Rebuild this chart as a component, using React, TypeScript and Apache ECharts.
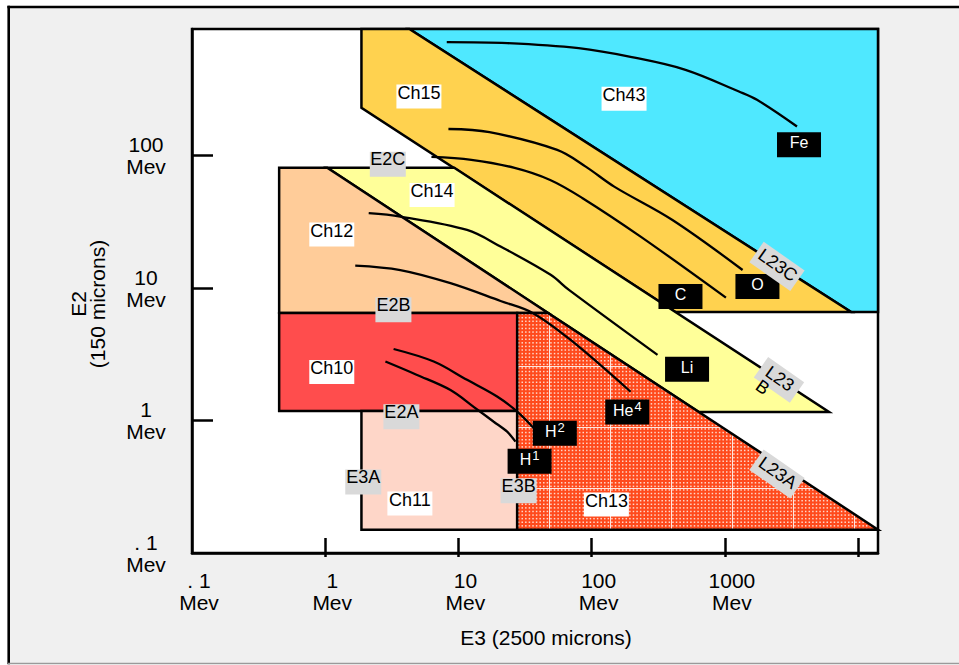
import React, { useEffect, useRef } from 'react';
import * as echarts from 'echarts';

// ---------- axes (MeV) ----------
const E3_RANGE = [0.1, 14100];
const E2_RANGE = [0.1, 905];
const xTickValues = [1, 10, 100, 1000, 10000];
const xLabelValues = [0.1, 1, 10, 100, 1000];
const xLabelTexts = ['. 1', '1', '10', '100', '1000'];
const yTickValues = [1, 10, 100];
const yLabelValues = [0.1, 1, 10, 100];
const yLabelTexts = ['. 1', '1', '10', '100'];
const unitText = 'Mev';
const xTitle = 'E3 (2500 microns)';
const yTitle = 'E2\n(150 microns)';

// ---------- channel regions: vertices [E3, E2] in MeV ----------
const regionNames = ['Ch43', 'Ch15', 'Ch14', 'Ch12', 'Ch10', 'Ch11', 'Ch13'];
const ch43Region = [[4.28, 905], [14100, 905], [14100, 6.6], [8860, 6.6]];
const ch15Region = [[1.87, 905], [4.28, 905], [8860, 6.6], [425, 6.6], [1.87, 230]];
const ch14Region = [[1.035, 81], [9.3, 81], [6050, 1.16], [637, 1.16]];
const ch12Region = [[0.451, 81], [1.035, 81], [47, 6.5], [0.451, 6.5]];
const ch10Region = [[0.451, 6.5], [27.6, 6.5], [27.6, 1.18], [0.451, 1.18]];
const ch11Region = [[1.87, 1.18], [27.6, 1.18], [27.6, 0.15], [1.87, 0.15]];
const ch13Region = [[27.6, 6.5], [47, 6.5], [14100, 0.15], [27.6, 0.15]];
const regionVertices = [ch43Region, ch15Region, ch14Region, ch12Region, ch10Region, ch11Region, ch13Region];

// ---------- particle tracks [E3, E2] in MeV ----------
const trackFe = [[8.17, 720], [23.3, 708], [79.8, 648], [200, 555], [506, 445], [1274, 305], [1741, 264], [3477, 166]];
const trackO = [[8.41, 159], [17.1, 150.5], [55.1, 110.6], [90.2, 82.7], [147.6, 58.4], [404, 32.7], [1358, 13.7]];
const trackC = [[6.27, 97.9], [12.5, 93], [26.4, 80.9], [48.8, 65.6], [84.9, 48], [233, 24.5], [1018, 8.48]];
const trackLi = [[2.12, 36.8], [3.66, 34.7], [11.6, 27.5], [20.7, 20.6], [49.2, 12.6], [67.5, 9.69], [312, 3.13]];
const trackHe4 = [[1.68, 14.8], [3.66, 13.7], [8.71, 10.9], [20.7, 8.0], [36, 6.5], [69.5, 4.06], [196, 1.65]];
const trackH2 = [[3.26, 3.47], [6.52, 2.79], [11.6, 2.03], [19.5, 1.52], [27.6, 1.17], [36.8, 0.875]];
const trackH1 = [[2.83, 2.79], [4.89, 2.21], [8.71, 1.70], [13, 1.27], [18.4, 0.98], [23.2, 0.824], [26.8, 0.693]];
const tracks = [trackFe, trackO, trackC, trackLi, trackHe4, trackH2, trackH1];

// ---------- annotations (anchor [E3, E2] in MeV) ----------
const channelLabelPos = [[175, 269], [5.05, 280], [6.34, 50.6], [1.12, 25.4], [1.12, 2.33], [4.32, 0.236], [129, 0.232]];
const edgeNames = ['E2C', 'E2B', 'E2A', 'E3A', 'E3B'];
const edgePos = [[2.95, 86], [3.25, 6.88], [3.73, 1.07], [1.93, 0.344], [28.3, 0.295]];
const particleNames = ['Fe', 'C', 'O', 'Li', 'He', 'H', 'H'];
const particleMass = ['', '', '', '', '4', '2', '1'];
const particlePos = [[3600, 121], [464, 8.65], [1755, 10.3], [520, 2.44], [185, 1.16], [52.9, 0.802], [34.2, 0.493]];
const boundaryNames = ['L23C', 'L23\nB', 'L23A'];
const boundaryPos = [[2460, 14.6], [2547, 2.03], [2460, 0.395]];

const FONT_FAMILY = '"Liberation Sans", Arial, Helvetica, sans-serif';
const regionFill: Record<string, string> = {
  Ch43: '#4fe8ff', Ch15: '#ffd24f', Ch14: '#ffff99', Ch12: '#ffcc99', Ch10: '#ff4d4d', Ch11: '#fed6c8',
};

function makeHatchTile(size: number): HTMLCanvasElement {
  const c = document.createElement('canvas');
  c.width = size; c.height = size;
  const g = c.getContext('2d')!;
  g.fillStyle = '#ff4a1c';
  g.fillRect(0, 0, size, size);
  const n = 17;
  const step = size / n;
  g.fillStyle = 'rgba(255,232,222,0.9)';
  for (let i = 0; i < n; i++) for (let j = 0; j < n; j++) g.fillRect(i * step + 1.2, j * step + 1.2, 1.5, 1.5);
  g.fillStyle = 'rgba(255,255,255,0.85)';
  g.fillRect(0, 0, size, 1);
  g.fillRect(0, 0, 1, size);
  return c;
}

function nearestLabel(v: number, values: number[], texts: string[]): string {
  let best = -1, bd = Infinity;
  values.forEach((t, i) => {
    const d = Math.abs(Math.log10(v) - Math.log10(t));
    if (d < bd) { bd = d; best = i; }
  });
  return bd < 0.01 ? texts[best] + '\n' + unitText : '';
}

export default function App() {
  const ref = useRef<HTMLDivElement>(null);
  useEffect(() => {
    const el = ref.current!;
    const chart = echarts.init(el, undefined, { renderer: 'svg', width: 959, height: 665 });
    const tileSize = 61;
    const hatch = {
      image: makeHatchTile(tileSize), repeat: 'repeat', imageWidth: tileSize, imageHeight: tileSize, x: 53.7, y: 25,
    };
    const measure = document.createElement('canvas').getContext('2d')!;
    const tw = (t: string, font: string) => { measure.font = font; return measure.measureText(t).width; };

    type Lbl = { kind: string; text: string; sup: string; pos: number[] };
    const labels: Lbl[] = [];
    regionNames.forEach((n, i) => labels.push({ kind: 'channel', text: n, sup: '', pos: channelLabelPos[i] }));
    edgeNames.forEach((n, i) => labels.push({ kind: 'edge', text: n, sup: '', pos: edgePos[i] }));
    particleNames.forEach((n, i) => labels.push({ kind: 'particle', text: n, sup: particleMass[i], pos: particlePos[i] }));
    boundaryNames.forEach((n, i) => labels.push({ kind: 'boundary', text: n, sup: '', pos: boundaryPos[i] }));

    const f18 = `18px ${FONT_FAMILY}`;
    const f16 = `16px ${FONT_FAMILY}`;
    const f13 = `13px ${FONT_FAMILY}`;

    const txt = (text: string, x: number, y: number, font: string, fill: string, align = 'center', va = 'middle', extra: any = {}) => ({
      type: 'text', x, y,
      style: { text, font, fill, align, verticalAlign: va, textAlign: align, textVerticalAlign: va, ...extra },
    });

    const renderLabel = (params: any, api: any) => {
      const l = labels[params.dataIndex];
      const p = api.coord([l.pos[0], l.pos[1]]);
      const children: any[] = [];
      let rotation = 0;
      if (l.kind === 'channel') {
        children.push({ type: 'rect', shape: { x: -22.5, y: -12, width: 45, height: 24 }, style: { fill: '#ffffff' } });
        children.push(txt(l.text, 0, -3.5, f18, '#000'));
      } else if (l.kind === 'edge') {
        children.push({ type: 'rect', shape: { x: -18, y: -12.5, width: 36, height: 25 }, style: { fill: '#d9d9d9' } });
        children.push(txt(l.text, 0, -5, f18, '#000'));
      } else if (l.kind === 'particle') {
        children.push({ type: 'rect', shape: { x: -22, y: -12.5, width: 44, height: 25 }, style: { fill: '#000' } });
        const wm = tw(l.text, f16);
        const ws = l.sup ? tw(l.sup, f13) + 1 : 0;
        const x0 = -(wm + ws) / 2;
        children.push(txt(l.text, x0, -2, f16, '#fff', 'left'));
        if (l.sup) children.push(txt(l.sup, x0 + wm + 1, -6, f13, '#fff', 'left'));
      } else {
        rotation = -35 * Math.PI / 180;
        const lines = l.text.split('\n');
        const w1 = tw(lines[0], f18);
        const bw = lines.length > 1 ? 44 : 50;
        children.push({ type: 'rect', shape: { x: -bw / 2, y: -12.5, width: bw, height: 25 }, style: { fill: '#d9d9d9' } });
        children.push(txt(l.text, -w1 / 2, -10, f18, '#000', 'left', 'top', { lineHeight: 17 }));
      }
      return { type: 'group', x: p[0], y: p[1], rotation, children };
    };

    const renderRegion = (params: any, api: any) => {
      const name = regionNames[params.dataIndex];
      const pts = regionVertices[params.dataIndex].map((v) => api.coord(v));
      return {
        type: 'polygon',
        shape: { points: pts },
        style: { fill: name === 'Ch13' ? hatch : regionFill[name], stroke: '#000', lineWidth: 2.5, lineJoin: 'miter' },
      };
    };

    const axisFont = { fontFamily: FONT_FAMILY, fontSize: 21, color: '#000' };

    const option: any = {
      animation: false,
      backgroundColor: '#ffffff',
      graphic: [
        { type: 'rect', z: -100, shape: { x: 8, y: 7, width: 951, height: 656.5 }, style: { fill: '#f0f0f0' } },
        { type: 'line', z: -99, shape: { x1: 8.7, y1: 5.8, x2: 8.7, y2: 664.3 }, style: { stroke: '#000', lineWidth: 2.6 } },
        { type: 'line', z: -99, shape: { x1: 7.4, y1: 7, x2: 959, y2: 7 }, style: { stroke: '#000', lineWidth: 2.6 } },
        { type: 'line', z: -99, shape: { x1: 8, y1: 663.6, x2: 959, y2: 663.6 }, style: { stroke: '#9a9a9a', lineWidth: 1.5 } },
        {
          type: 'text', x: 88, y: 304, rotation: Math.PI / 2, z: 10,
          style: {
            text: yTitle, font: `21px ${FONT_FAMILY}`, fill: '#000', lineHeight: 19,
            align: 'center', verticalAlign: 'middle', textAlign: 'center', textVerticalAlign: 'middle',
          },
        },
      ],
      grid: {
        left: 192, top: 29, width: 686, height: 524,
        show: true, backgroundColor: '#ffffff', borderColor: '#000', borderWidth: 2.5,
      },
      xAxis: [
        {
          type: 'log', logBase: 10, min: E3_RANGE[0], max: E3_RANGE[1],
          name: xTitle, nameLocation: 'middle', nameGap: 74,
          nameTextStyle: { ...axisFont, padding: [0, 0, 0, 22] },
          axisLine: { show: true, lineStyle: { color: '#000', width: 2.5 } },
          axisTick: { show: true, length: 4, customValues: xTickValues, lineStyle: { color: '#000', width: 2.5 } },
          axisLabel: {
            ...axisFont, lineHeight: 22, margin: 16, align: 'center', padding: [0, 0, 0, 14],
            customValues: xLabelValues,
            formatter: (v: number) => nearestLabel(v, xLabelValues, xLabelTexts),
          },
          splitLine: { show: false },
        },
        {
          type: 'log', logBase: 10, min: E3_RANGE[0], max: E3_RANGE[1], position: 'bottom',
          axisLine: { show: false },
          axisTick: { show: true, inside: true, length: 15, customValues: xTickValues, lineStyle: { color: '#000', width: 2.5 } },
          axisLabel: { show: false },
          splitLine: { show: false },
        },
      ],
      yAxis: {
        type: 'log', logBase: 10, min: E2_RANGE[0], max: E2_RANGE[1],
        axisLine: { show: true, lineStyle: { color: '#000', width: 2.5 } },
        axisTick: { show: true, inside: true, length: 21, customValues: yTickValues, lineStyle: { color: '#000', width: 2.5 } },
        axisLabel: {
          ...axisFont, lineHeight: 22, margin: 46, align: 'center', padding: [0, 0, 6, 0],
          customValues: yLabelValues,
          formatter: (v: number) => nearestLabel(v, yLabelValues, yLabelTexts),
        },
        splitLine: { show: false },
      },
      series: [
        {
          type: 'custom', name: 'channels', silent: true, z: 2, clip: false,
          renderItem: renderRegion,
          data: regionVertices.map((r) => r[0]),
        },
        ...tracks.map((t, i) => ({
          type: 'line', name: 'track' + i, data: t, z: 3, silent: true,
          smooth: 0.35, symbol: 'none', showSymbol: false,
          lineStyle: { color: '#000', width: 2.3 },
        })),
        {
          type: 'custom', name: 'labels', silent: true, z: 4, clip: false,
          renderItem: renderLabel,
          data: labels.map((l) => l.pos),
        },
      ],
    };
    chart.setOption(option);
    return () => chart.dispose();
  }, []);
  return <div ref={ref} style={{ position: 'fixed', left: 0, top: 0, width: 959, height: 665 }} />;
}
